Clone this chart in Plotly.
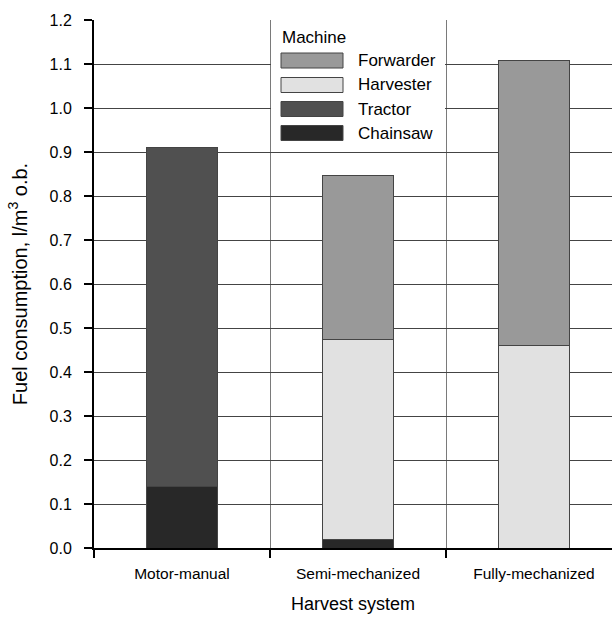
import plotly.graph_objects as go

categories = ["Motor-manual", "Semi-mechanized", "Fully-mechanized"]
machines = ["Forwarder", "Harvester", "Tractor", "Chainsaw"]  # legend order (top to bottom)
chainsaw = [0.14, 0.02, None]
harvester = [None, 0.453, 0.461]
tractor = [0.77, None, None]
forwarder = [None, 0.373, 0.648]
y_ticks = [0.0, 0.1, 0.2, 0.3, 0.4, 0.5, 0.6, 0.7, 0.8, 0.9, 1.0, 1.1, 1.2]

colors = {"Forwarder": "#999999", "Harvester": "#e1e1e1", "Tractor": "#505050", "Chainsaw": "#282828"}
series = {"Chainsaw": chainsaw, "Harvester": harvester, "Tractor": tractor, "Forwarder": forwarder}

FONT = "Liberation Sans, Arial, sans-serif"
W, H = 612, 617
ML, MR, MT, MB = 94, 0, 20, 69
PW, PH = W - ML - MR, H - MT - MB
CAT_PX = 176

fig = go.Figure()
for name in ["Chainsaw", "Harvester", "Tractor", "Forwarder"]:
    fig.add_trace(go.Bar(
        x=categories, y=series[name], name=name, width=0.4,
        marker=dict(color=colors[name], line=dict(color="#444444", width=1)),
        showlegend=False,
    ))

def px(xp):
    return (xp - ML) / PW

def py(yp):
    return (H - MB - yp) / PH

shapes = []
annotations = []
# legend background cell
shapes.append(dict(type="rect", xref="paper", yref="paper", layer="above",
                   x0=px(271), x1=px(445), y0=py(151), y1=py(21),
                   fillcolor="white", line=dict(width=0)))
annotations.append(dict(text="Machine", xref="paper", yref="paper", x=px(280), y=py(38),
                        xanchor="left", yanchor="middle", showarrow=False,
                        font=dict(family=FONT, size=17, color="black")))
row_centers = [60.5, 85, 109, 133]
for name, cy in zip(machines, row_centers):
    shapes.append(dict(type="rect", xref="paper", yref="paper", layer="above",
                       x0=px(281), x1=px(343), y0=py(cy + 7.5), y1=py(cy - 7.5),
                       fillcolor=colors[name], line=dict(color="#444444", width=1)))
    annotations.append(dict(text=name, xref="paper", yref="paper", x=px(356), y=py(cy),
                            xanchor="left", yanchor="middle", showarrow=False,
                            font=dict(family=FONT, size=17, color="black")))

fig.update_layout(
    width=W, height=H,
    margin=dict(l=ML, r=MR, t=MT, b=MB, pad=0, autoexpand=False),
    paper_bgcolor="white", plot_bgcolor="white",
    barmode="stack",
    font=dict(family=FONT, size=15, color="black"),
    shapes=shapes, annotations=annotations,
    showlegend=False,
)
fig.update_xaxes(
    type="category", categoryorder="array", categoryarray=categories,
    range=[-0.5, -0.5 + PW / CAT_PX], automargin=False,
    tickson="boundaries", ticks="outside", ticklen=8, tickwidth=1.5, tickcolor="black",
    showgrid=True, gridcolor="#7a7a7a", gridwidth=1,
    showline=True, linecolor="black", linewidth=1.5,
    tickfont=dict(family=FONT, size=15.5, color="black"),
    ticklabelstandoff=11,
    title=dict(text="Harvest system", font=dict(family=FONT, size=18, color="black"), standoff=16),
    zeroline=False,
)
fig.update_yaxes(
    range=[0, 1.2], tickvals=y_ticks, ticktext=[f"{v:.1f}" for v in y_ticks], automargin=False,
    ticks="outside", ticklen=8, tickwidth=2, tickcolor="black",
    showgrid=True, gridcolor="#444444", gridwidth=1,
    showline=True, linecolor="black", linewidth=2,
    tickfont=dict(family=FONT, size=16, color="black"),
    ticklabelstandoff=9,
    title=dict(text="Fuel consumption, l/m<sup>3</sup> o.b.", font=dict(family=FONT, size=20, color="black"), standoff=17),
    zeroline=False,
)

fig.write_html("out.html", config={"displayModeBar": False},
               post_script="document.body.style.margin='0';document.body.style.overflow='hidden';")
